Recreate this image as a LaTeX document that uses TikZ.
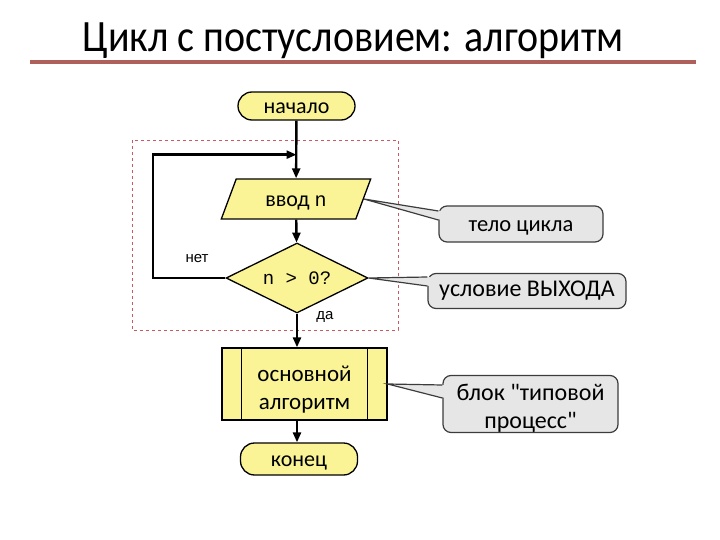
\documentclass[tikz,border=0pt]{standalone}
\usepackage{fontspec}
\usepackage{graphicx}
\setmainfont{Carlito}[Ligatures=TeXOff]
\newfontfamily\monof{Liberation Mono}
\newfontfamily\arialf{Liberation Sans}
\usetikzlibrary{shapes.geometric,arrows.meta}
\definecolor{boxyellow}{RGB}{250,244,150}
\definecolor{callgray}{RGB}{230,230,230}
\definecolor{callborder}{RGB}{60,60,60}
\definecolor{titlered}{RGB}{176,96,90}
\definecolor{dashred}{RGB}{200,90,100}
\begin{document}
\begin{tikzpicture}[x=1pt,y=-1pt,
  flow/.style={line width=2.4pt, -{Triangle[length=10pt,width=8pt]}},
  blk/.style={draw=black, line width=1.3pt, fill=boxyellow, font=\fontsize{22}{28}\selectfont, inner sep=0pt},
  term/.style={blk, rounded corners=14pt, minimum width=117pt},
  fixedtext/.style={text height=15pt, text depth=0pt},
  callout/.style={draw=callborder, line width=1.2pt, fill=callgray, rounded corners=8pt, inner sep=0pt, align=center},
  pfill/.style={fill=callgray},
  pline/.style={draw=callborder, line width=1.2pt},
  small/.style={font=\arialf\fontsize{15}{17}\selectfont}
]
\useasboundingbox (0,0) rectangle (720,540);
\node[anchor=base, inner sep=0pt] (title) at (353,52) {\scalebox{1}[1.12]{\fontsize{40}{48}\selectfont Цикл с постусловием: алгоритм}};
\draw[titlered, line width=3.5pt] (30,62) -- (696,62);
\draw[dashred, dashed, line width=0.8pt] (132,140) rectangle (398,330);

\node[term, fixedtext, minimum height=28pt] (start) at (296.5,106) {начало};
\node[blk, fixedtext, trapezium, trapezium left angle=63, trapezium right angle=117, minimum width=150pt, minimum height=40pt, trapezium stretches=true] (input) at (296,199) {ввод {\monof\fontsize{20}{24}\selectfont n}};
\node[blk, diamond, aspect=2, minimum width=142pt, minimum height=70pt] (cond) at (297,278) {{\monof\fontsize{19}{24}\selectfont n > 0?}};
\node[blk, minimum width=165pt, minimum height=72pt] (proc) at (304.5,384) {};
\node[align=center, font=\fontsize{23}{28}\selectfont, inner sep=0pt] (proctext) at ([yshift=-5.5pt]proc.center) {основной\\алгоритм};
\draw[line width=1.3pt] ([xshift=20pt]proc.north west) -- ([xshift=20pt]proc.south west);
\draw[line width=1.3pt] ([xshift=-20pt]proc.north east) -- ([xshift=-20pt]proc.south east);
\node[term, text height=14.5pt, text depth=0pt, minimum height=32pt] (end) at (299,459) {конец};

\path (start.south) ++(0,34) coordinate (join);
\coordinate (lx) at (153,0);
\draw[flow] (start) -- (input);
\draw[flow] (cond.west) -- (cond.west -| lx) |- (join);
\draw[flow] (input) -- (cond);
\draw[flow] (cond.south) -- (cond.south |- proc.north);
\draw[flow] (proc.south -| cond.south) -- (end.north -| cond.south);

\node[small] (no) at (197,259) {нет};
\node[small] (yes) at (325,317) {да};

\node[callout, fixedtext, minimum width=164pt, minimum height=36pt, font=\fontsize{22.5}{28}\selectfont] (c1) at (521,224) {тело цикла};
\node[callout, minimum width=198pt, minimum height=35pt, font=\fontsize{24}{28}\selectfont] (c2) at (527,291) {условие ВЫХОДА};
\node[callout, minimum width=175pt, minimum height=57pt] (c3) at (530.5,404) {};
\node[align=center, font=\fontsize{24}{28}\selectfont, inner sep=0pt] (c3text) at ([yshift=-4pt]c3.center) {блок "типовой\\процесс"};

\fill[pfill] (input.east) -- ([xshift=3pt,yshift=13pt]c1.west) -- ([xshift=3pt,yshift=4pt]c1.west) -- cycle;
\draw[pline] ([yshift=13pt]c1.west) -- (input.east) -- ([yshift=4pt]c1.west);
\fill[pfill] (cond.east) -- ([xshift=3pt,yshift=14pt]c2.west) -- ([xshift=3pt,yshift=5pt]c2.west) -- cycle;
\draw[pline] ([yshift=14pt]c2.west) -- (cond.east) -- ([yshift=5pt]c2.west);
\fill[pfill] (proc.east) -- ([xshift=3pt,yshift=19pt]c3.west) -- ([xshift=3pt,yshift=6pt]c3.west) -- cycle;
\draw[pline] ([yshift=19pt]c3.west) -- (proc.east) -- ([yshift=6pt]c3.west);
\end{tikzpicture}
\end{document}
